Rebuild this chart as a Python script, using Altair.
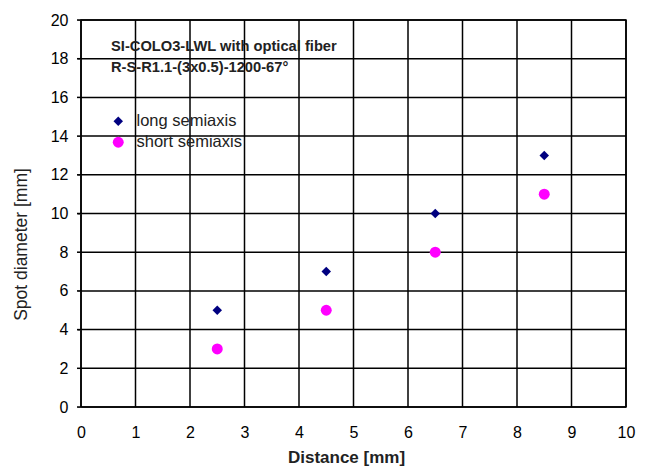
import altair as alt
import pandas as pd

distance = [2.5, 4.5, 6.5, 8.5]
long_semiaxis = [5, 7, 10, 13]
short_semiaxis = [3, 5, 8, 11]
series_names = ["long semiaxis", "short semiaxis"]
series_colors = ["#000080", "#ff00ff"]
series_shapes = ["diamond", "circle"]
title_lines = ["SI-COLO3-LWL with optical fiber", "R-S-R1.1-(3x0.5)-1200-67°"]
x_ticks = list(range(0, 11))
y_ticks = list(range(0, 21, 2))

rows = []
for d, v in zip(distance, long_semiaxis):
    rows.append({"Distance": d, "value": v, "series": series_names[0]})
for d, v in zip(distance, short_semiaxis):
    rows.append({"Distance": d, "value": v, "series": series_names[1]})
df = pd.DataFrame(rows)
xgrid = pd.DataFrame({"Distance": x_ticks})
ygrid = pd.DataFrame({"value": y_ticks})

FONT = "Liberation Sans"
LW = 1.5

xscale = alt.Scale(domain=[0, 10], nice=False, zero=True)
yscale = alt.Scale(domain=[0, 20], nice=False)

legend_cfg = dict(title=None, orient="none", legendX=29, legendY=93,
                  labelFontSize=16.5, labelFont=FONT, labelColor="#222",
                  symbolSize=90, rowPadding=4, labelOffset=10,
                  symbolStrokeWidth=0)

xaxis = alt.Axis(values=x_ticks, title="Distance [mm]", tickSize=0, grid=False, domain=False,
                 labelPadding=17, format="d", labelFlush=False,
                 titleFontWeight="bold", titleFontSize=17,
                 titleX=265, titleY=55, titleAlign="center", titleBaseline="alphabetic")
yaxis = alt.Axis(values=y_ticks, title="Spot diameter [mm]", tickSize=4, grid=False, domain=False,
                 labelPadding=9, titleFontWeight="normal", titleFontSize=17.5,
                 format="d", labelFlush=False,
                 titleX=-54.5, titleY=224, titleAlign="center", titleBaseline="alphabetic",
                 titleAngle=270)

vgrid = alt.Chart(xgrid).mark_rule(color="#000000", strokeWidth=LW).encode(
    x=alt.X("Distance:Q", scale=xscale, axis=xaxis),
    y=alt.value(0), y2=alt.value(387)
)
hgrid = alt.Chart(ygrid).mark_rule(color="#000000", strokeWidth=LW).encode(
    y=alt.Y("value:Q", scale=yscale, axis=yaxis),
    x=alt.value(0), x2=alt.value(545)
)
yticks = alt.Chart(ygrid).mark_rule(color="#000000", strokeWidth=LW).encode(
    y=alt.Y("value:Q", scale=yscale, axis=yaxis),
    x=alt.value(-4), x2=alt.value(0)
)

points = alt.Chart(df).mark_point(filled=True, opacity=1).encode(
    x=alt.X("Distance:Q", scale=xscale, axis=xaxis),
    y=alt.Y("value:Q", scale=yscale, axis=yaxis),
    color=alt.Color("series:N", scale=alt.Scale(domain=series_names, range=series_colors),
                    legend=alt.Legend(**legend_cfg)),
    shape=alt.Shape("series:N", scale=alt.Scale(domain=series_names, range=series_shapes),
                    legend=alt.Legend(**legend_cfg)),
    size=alt.Size("series:N", scale=alt.Scale(domain=series_names, range=[90, 120]), legend=None),
)

title_text = alt.Chart(df).mark_text(
    align="left", baseline="middle", font=FONT, fontSize=14.7, fontWeight="bold",
    lineHeight=20.5, color="#222"
).encode(
    x=alt.value(30), y=alt.value(27), text=alt.value(title_lines)
).transform_filter(alt.datum.value == 5).transform_filter(alt.datum.series == series_names[0])

chart = alt.layer(vgrid, hgrid, yticks, points, title_text).properties(
    width=545, height=387,
    autosize=alt.AutoSizeParams(type="none"),
    padding={"left": 73, "top": 12, "right": 12, "bottom": 60},
).configure_axis(
    labelFont=FONT, labelFontSize=16, labelColor="#000",
    titleFont=FONT, titleColor="#222",
).configure_view(stroke="#000000", strokeWidth=LW)

chart.save("out.html", embed_options={"renderer": "svg", "actions": False})
